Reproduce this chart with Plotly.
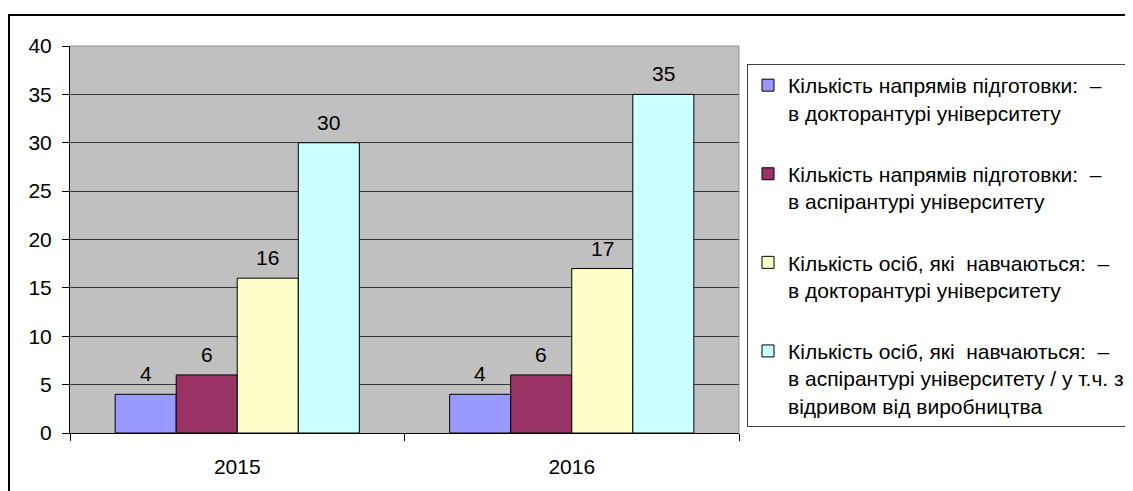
import plotly.graph_objects as go

years = ["2015", "2016"]
series_names = [
    "Кількість напрямів підготовки:  –<br>в докторантурі університету",
    "Кількість напрямів підготовки:  –<br>в аспірантурі університету",
    "Кількість осіб, які  навчаються:  –<br>в докторантурі університету",
    "Кількість осіб, які  навчаються:  –<br>в аспірантурі університету / у т.ч. з<br>відривом від виробництва",
]
phd_dirs_doct = [4, 4]
phd_dirs_asp = [6, 6]
persons_doct = [16, 17]
persons_asp = [30, 35]
values = [phd_dirs_doct, phd_dirs_asp, persons_doct, persons_asp]
colors = ["#9999FF", "#993366", "#FFFFCC", "#CCFFFF"]
y_ticks = [0, 5, 10, 15, 20, 25, 30, 35, 40]

FONT = "Liberation Sans, Arial, sans-serif"
FS = 21
BARGAP = 0.27

fig = go.Figure()
for i, (name, vals, col) in enumerate(zip(series_names, values, colors)):
    fig.add_trace(go.Bar(
        x=years, y=vals, name=name,
        marker=dict(color=col, line=dict(color="black", width=1)),
        legendgroup=f"g{i}",
    ))

# data labels, placed at the bar centres of the grouped layout
n = len(values)
bar_w = (1 - BARGAP) / n
annotations = []
for i, vals in enumerate(values):
    for j, v in enumerate(vals):
        annotations.append(dict(
            x=j + (i - (n - 1) / 2) * bar_w, y=v, xref="x", yref="y",
            text=str(v), showarrow=False, yanchor="bottom", yshift=7,
            font=dict(family=FONT, size=FS, color="black"),
        ))

# figure sits at an 8px page offset (body margin)
W, H = 1125, 483
L, R, T, B = 62, 731, 38, 425
pw, ph = R - L, B - T

def px(x):
    return (x - L) / pw

def py(y):
    return (B - y) / ph

fig.update_layout(
    width=W, height=H,
    margin=dict(l=L, r=W - R, t=T, b=H - B, pad=0, autoexpand=False),
    paper_bgcolor="white",
    plot_bgcolor="#C0C0C0",
    barmode="group", bargap=BARGAP, bargroupgap=0,
    font=dict(family=FONT, size=FS, color="black"),
    showlegend=True,
    legend=dict(
        x=px(739), y=py(56), xanchor="left", yanchor="top",
        bgcolor="white", bordercolor="#404040", borderwidth=1,
        font=dict(family=FONT, size=FS, color="black"),
        traceorder="grouped", tracegroupgap=31,
        itemwidth=30, valign="top",
    ),
    xaxis=dict(
        type="category", showline=True, linecolor="black", linewidth=1,
        ticks="outside", tickson="boundaries", ticklen=7, tickcolor="black",
        showgrid=False, ticklabelstandoff=15,
        tickfont=dict(family=FONT, size=FS, color="black"),
    ),
    yaxis=dict(
        range=[0, 40], tickvals=y_ticks, showline=True, linecolor="black", linewidth=1,
        ticks="outside", ticklen=7, tickcolor="black",
        showgrid=True, gridcolor="#3a3a3a", gridwidth=1, zeroline=False,
        tickfont=dict(family=FONT, size=FS, color="black"),
        ticklabelstandoff=6,
    ),
    annotations=annotations,
    shapes=[
        dict(type="rect", xref="paper", yref="paper",
             x0=px(1), x1=px(1140), y0=py(7), y1=py(520),
             line=dict(color="black", width=2), fillcolor="rgba(0,0,0,0)", layer="below"),
        dict(type="line", xref="paper", yref="paper", x0=1, x1=1, y0=0, y1=1,
             line=dict(color="#909090", width=1)),
        dict(type="line", xref="paper", yref="paper", x0=0, x1=1, y0=1, y1=1,
             line=dict(color="#909090", width=1)),
    ],
)

fig.write_html("out.html")
